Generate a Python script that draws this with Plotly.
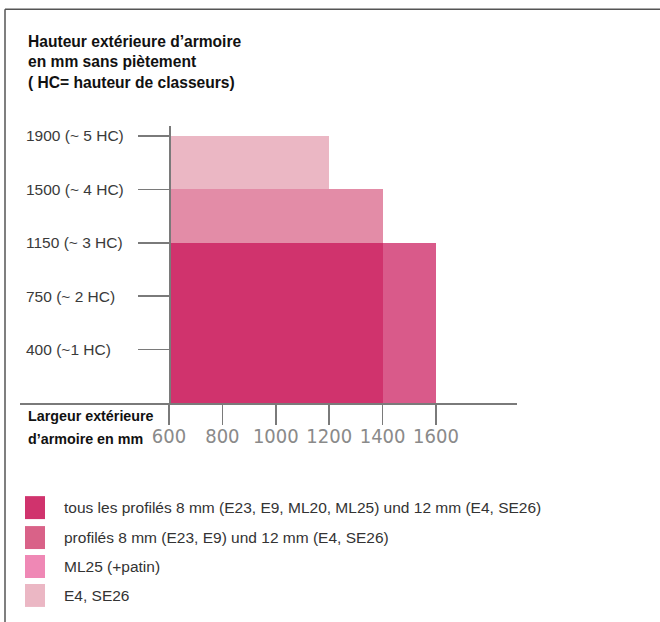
import plotly.graph_objects as go

# ---------------- data ----------------
series_names = [
    "tous les profilés 8 mm (E23, E9, ML20, ML25) und 12 mm (E4, SE26)",
    "profilés 8 mm (E23, E9) und 12 mm (E4, SE26)",
    "ML25 (+patin)",
    "E4, SE26",
]
width_start = [600, 1400, 600, 600]      # mm
width_end = [1400, 1600, 1400, 1200]      # mm
height_start = [0, 0, 3, 4]               # in HC (hauteur de classeurs)
height_end = [3, 3, 4, 5]
bar_colors = ["#D0336D", "#D95A8A", "#E38CA7", "#EBB7C4"]
legend_colors = ["#D0336D", "#D96288", "#EF88B5", "#EBB7C4"]

x_ticks = [600, 800, 1000, 1200, 1400, 1600]
y_ticks = [1, 2, 3, 4, 5]
y_tick_labels = ["400 (~1 HC)", "750 (~ 2 HC)", "1150 (~ 3 HC)", "1500 (~ 4 HC)", "1900 (~ 5 HC)"]

title_text = "Hauteur extérieure d’armoire<br>en mm sans piètement<br>( HC= hauteur de classeurs)"
xlabel_lines = ["Largeur extérieure", "d’armoire en mm"]

# ---------------- layout geometry (pixels) ----------------
W, H = 660, 622
L, R, T, B = 20, 517, 126, 403.5


def px_x(px):
    return (px - L) / (R - L)


def px_y(py):
    return (B - py) / (B - T)


REG = "Liberation Sans, Arial, sans-serif"
NARROW = "DejaVu Sans Condensed, Liberation Sans Narrow, Arial Narrow, sans-serif"
AXIS_COL = "#7a7a7a"

fig = go.Figure()
for name, x0, x1, y0, y1, c in zip(series_names, width_start, width_end,
                                   height_start, height_end, bar_colors):
    fig.add_trace(go.Bar(
        x=[(x0 + x1) / 2], width=[x1 - x0], base=[y0], y=[y1 - y0],
        marker=dict(color=c, line=dict(width=0)), name=name,
        showlegend=False, hoverinfo="skip",
    ))

# x range so that 600 sits at px 169 and 200 mm = 53.4 px
mm_per_px = 200 / 53.4
x_lo = 600 - (169 - L) * mm_per_px
x_hi = 600 + (R - 169) * mm_per_px
y_hi = (B - T) / 53.5

fig.update_layout(
    width=W, height=H,
    margin=dict(l=L, r=W - R, t=T, b=H - B, pad=0),
    paper_bgcolor="white", plot_bgcolor="white",
    barmode="overlay", bargap=0,
    showlegend=False,
    xaxis=dict(
        range=[x_lo, x_hi], tickmode="array", tickvals=x_ticks,
        ticktext=[str(v) for v in x_ticks],
        showline=True, linecolor=AXIS_COL, linewidth=1.5,
        ticks="outside", ticklen=20, tickwidth=1.5, tickcolor=AXIS_COL,
        tickfont=dict(family=NARROW, size=20, color="#8a8a8a"),
        ticklabelstandoff=-6,
        showgrid=False, zeroline=False, fixedrange=True,
    ),
    yaxis=dict(
        range=[0, y_hi], tickmode="array", tickvals=y_ticks,
        anchor="free", position=px_x(169),
        showline=True, linecolor=AXIS_COL, linewidth=1.5,
        ticks="outside", ticklen=31, tickwidth=1.5, tickcolor=AXIS_COL,
        showticklabels=False,
        showgrid=False, zeroline=False, fixedrange=True,
    ),
)

annotations = []
# y tick labels (left aligned)
for v, t in zip(y_ticks, y_tick_labels):
    annotations.append(dict(
        x=px_x(23.5), xref="paper", y=v, yref="y", text=t, showarrow=False,
        xanchor="left", yanchor="middle",
        font=dict(family=REG, size=15.5, color="#3a3a3a"),
    ))
# title
annotations.append(dict(
    x=px_x(25.5), xref="paper", y=px_y(61.5), yref="paper", text=title_text,
    showarrow=False, xanchor="left", yanchor="middle", align="left",
    font=dict(family=REG, size=15.6, color="#111111", weight="bold"),
))
# x axis label (two lines)
for line, cy in zip(xlabel_lines, [416.7, 440]):
    annotations.append(dict(
        x=px_x(25.5), xref="paper", y=px_y(cy), yref="paper", text=line,
        showarrow=False, xanchor="left", yanchor="middle", align="left",
        font=dict(family=REG, size=14.3, color="#111111", weight="bold"),
    ))

shapes = []
# frame (top and left)
shapes.append(dict(type="line", xref="paper", yref="paper",
                   x0=px_x(5), x1=px_x(662), y0=px_y(9), y1=px_y(9),
                   line=dict(color="#555555", width=1.5)))
shapes.append(dict(type="line", xref="paper", yref="paper",
                   x0=px_x(5), x1=px_x(5), y0=px_y(9), y1=px_y(625),
                   line=dict(color="#555555", width=1.5)))

# legend
row_centers = [508.3, 538.3, 567.3, 596.3]
for name, c, cy in zip(series_names, legend_colors, row_centers):
    shapes.append(dict(type="rect", xref="paper", yref="paper",
                       x0=px_x(25), x1=px_x(45), y0=px_y(cy - 11.5), y1=px_y(cy + 11.5),
                       fillcolor=c, line=dict(width=0)))
    annotations.append(dict(
        x=px_x(61.5), xref="paper", y=px_y(cy), yref="paper", text=name,
        showarrow=False, xanchor="left", yanchor="middle",
        font=dict(family=REG, size=15.5, color="#333333"),
    ))

fig.update_layout(annotations=annotations, shapes=shapes)
fig.write_html("out.html",
               config={"displayModeBar": False, "staticPlot": True},
               post_script="document.body.style.margin='0px';document.body.style.overflow='hidden';")
